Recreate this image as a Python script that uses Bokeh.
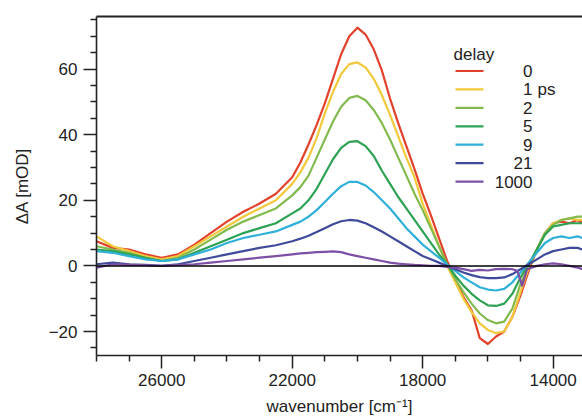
from bokeh.plotting import figure
from bokeh.models import (Range1d, FixedTicker, LinearAxis, Span, Label, BoxAnnotation)
from bokeh.embed import file_html
from bokeh.resources import INLINE

# ---------------- data ----------------
wavenumber = [28000, 27500, 27000, 26500, 26000, 25500, 25000, 24500, 24000, 23500,
              23000, 22500, 22000, 21750, 21500, 21250, 21000, 20750, 20500, 20250,
              20000, 19750, 19500, 19250, 19000, 18750, 18500, 18250, 18000, 17750,
              17500, 17250, 17000, 16750, 16500, 16250, 16000, 15750, 15500, 15250,
              15000, 14750, 14500, 14250, 14000, 13750, 13500, 13250, 13100]

d0 = [7.5, 5.5, 5.0, 3.5, 2.5, 3.5, 6.5, 10.0, 13.5, 16.5,
      19.0, 22.0, 27.0, 31.5, 37.0, 43.0, 49.5, 57.0, 64.5, 70.0,
      72.6, 70.5, 66.0, 59.5, 51.0, 43.5, 36.5, 29.5, 22.0, 15.5,
      8.5, 1.5, -4.0, -9.5, -13.5, -22.0, -23.8, -21.5, -20.0, -15.5,
      -9.0, -1.5, 5.0, 10.0, 13.0, 13.5, 13.0, 14.0, 13.0]
d1 = [9.0, 6.0, 4.5, 3.0, 2.0, 3.0, 6.0, 9.0, 12.0, 15.0,
      17.5, 20.0, 25.0, 28.5, 33.0, 39.0, 46.5, 53.0, 58.5, 61.5,
      62.0, 60.5, 57.0, 52.0, 46.0, 39.5, 33.0, 27.0, 19.0, 12.5,
      6.0, 0.0, -5.0, -10.0, -14.0, -17.5, -19.5, -20.5, -20.0, -15.5,
      -8.0, -0.5, 5.0, 10.0, 13.0, 14.0, 14.5, 14.0, 14.0]
d2 = [6.0, 5.0, 4.0, 2.5, 1.5, 2.5, 5.0, 8.0, 11.0, 13.5,
      15.5, 17.5, 21.5, 24.0, 27.5, 33.0, 38.5, 44.0, 48.5, 51.2,
      51.8, 50.5, 47.5, 43.5, 38.5, 33.0, 27.5, 22.0, 17.0, 11.5,
      6.0, 0.5, -4.0, -8.0, -11.5, -14.5, -16.5, -17.5, -17.0, -13.0,
      -5.5, 0.0, 5.0, 10.0, 12.5, 14.0, 14.5, 15.0, 15.0]
d5 = [5.0, 4.5, 3.5, 2.5, 1.5, 2.0, 4.0, 6.0, 8.0, 10.0,
      11.5, 13.0, 16.0, 17.5, 20.0, 23.5, 28.0, 32.5, 36.0, 37.8,
      38.0, 36.5, 33.5, 29.0, 25.0, 21.0, 17.5, 14.0, 10.5, 7.0,
      3.5, 0.5, -3.0, -6.0, -8.5, -10.5, -12.0, -12.2, -11.5, -8.5,
      -3.5, 0.5, 5.0, 9.5, 12.0, 12.5, 13.0, 13.0, 13.0]
d9 = [4.5, 4.0, 3.0, 2.0, 1.5, 2.0, 3.5, 5.0, 7.0, 8.5,
      9.5, 10.5, 12.5, 13.5, 15.0, 17.0, 19.5, 22.0, 24.3, 25.6,
      25.6, 24.5, 22.5, 20.0, 17.5, 14.5, 11.5, 9.0, 6.5, 4.5,
      2.5, 0.5, -1.5, -3.5, -5.0, -6.5, -7.2, -7.5, -7.0, -5.0,
      -2.0, 1.0, 4.0, 7.0, 8.5, 9.0, 8.5, 9.0, 8.5]
d21 = [0.5, 1.0, 0.5, 0.3, 0.0, 0.5, 1.5, 2.5, 3.5, 4.5,
       5.5, 6.3, 7.5, 8.3, 9.2, 10.3, 11.5, 12.7, 13.6, 14.0,
       13.8, 13.0, 11.8, 10.5, 9.0, 7.5, 6.0, 4.5, 3.0, 2.0,
       1.0, 0.0, -1.0, -2.0, -2.8, -3.4, -3.7, -3.7, -3.5, -2.5,
       -1.0, 0.5, 2.0, 3.5, 4.5, 5.0, 5.5, 5.5, 5.0]

wavenumber_1000 = [28000, 27500, 27000, 26500, 26000, 25500, 25000, 24500, 24000, 23500,
                   23000, 22500, 22000, 21750, 21500, 21250, 21000, 20750, 20500, 20250,
                   20000, 19750, 19500, 19250, 19000, 18750, 18500, 18250, 18000, 17750,
                   17500, 17250, 17000, 16750, 16500, 16250, 16000, 15750, 15500, 15250,
                   15100, 14950, 14800, 14500, 14250, 14000, 13750, 13500, 13250, 13100]
d1000 = [-0.5, 0.5, 0.3, 0.2, 0.0, 0.3, 0.5, 1.0, 1.5, 2.0,
         2.5, 3.0, 3.5, 3.8, 4.0, 4.2, 4.3, 4.4, 4.2, 3.5,
         3.0, 2.5, 2.0, 1.5, 1.0, 0.7, 0.5, 0.3, 0.2, 0.0,
         0.0, -0.3, -0.5, -1.0, -1.5, -1.2, -1.4, -1.0, -0.9, -1.0,
         -1.5, -6.0, -1.0, 0.0, 0.5, 0.8, 0.5, 0.0, -0.5, -1.0]

legend_title = "delay"
delay_labels = ["0", "1", "2", "5", "9", "21", "1000"]
delay_unit = "ps"
colors = ["#e2412b", "#f2c93a", "#82ba4e", "#2ea253", "#2fb0d8", "#3f4a9a", "#7e4fa6"]

x_major = [26000, 22000, 18000, 14000]
x_minor = [28000, 27000, 25000, 24000, 23000, 21000, 20000, 19000, 17000, 16000, 15000, 13000]
y_major = [-20, 0, 20, 40, 60]
y_minor = [-25, -15, -10, -5, 5, 10, 15, 25, 30, 35, 45, 50, 55, 65, 70, 75]

FONT = "Liberation Sans"
TXT = "#222222"
LW = 2.2

p = figure(width=582, height=418, output_backend="svg", toolbar_location=None,
           x_range=Range1d(28000, 13100), y_range=Range1d(-27.3, 76),
           min_border_left=96, min_border_right=0, min_border_top=16, min_border_bottom=61)
p.grid.visible = False
p.outline_line_color = None
p.background_fill_color = "white"

p.add_layout(Span(location=0, dimension="width", line_color="black", line_width=1.5))

series_x = [wavenumber] * 6 + [wavenumber_1000]
series_y = [d0, d1, d2, d5, d9, d21, d1000]
for xs, ys, c in zip(series_x, series_y, colors):
    p.line(xs, ys, line_color=c, line_width=LW, line_join="round")

for ax in (p.xaxis[0], p.yaxis[0]):
    ax.axis_line_width = 1.6
    ax.axis_line_color = "#222222"
    ax.major_tick_line_color = "#222222"
    ax.minor_tick_line_color = "#222222"
    ax.major_tick_line_width = 1.5
    ax.minor_tick_line_width = 1.5
    ax.major_tick_in = 0
    ax.minor_tick_in = 0
    ax.major_tick_out = 13
    ax.minor_tick_out = 6
    ax.major_label_text_font = FONT
    ax.major_label_text_font_size = "17px"
    ax.major_label_text_color = TXT
    ax.axis_label_text_font = FONT
    ax.axis_label_text_font_size = "17px"
    ax.axis_label_text_font_style = "normal"
    ax.axis_label_text_color = TXT

p.xaxis.ticker = FixedTicker(ticks=x_major, minor_ticks=x_minor)
p.yaxis.ticker = FixedTicker(ticks=y_major, minor_ticks=y_minor)
p.xaxis.axis_label = "wavenumber [cm\u207b\u00b9]"
p.yaxis.axis_label = "\u0394A [mOD]"
p.xaxis.major_label_standoff = 5
p.xaxis.axis_label_standoff = 8
p.yaxis.major_label_standoff = 6
p.yaxis.axis_label_standoff = 14

top = LinearAxis(ticker=FixedTicker(ticks=[]), axis_line_width=2, axis_line_color="#222222",
                 major_label_text_font_size="0px", major_tick_out=0, minor_tick_out=0)
p.add_layout(top, "above")

# ---- legend (screen units, relative to the plot frame, y upward) ----
LEG_LINE_X0 = 359
LEG_LINE_LEN = 28
LEG_NUM_RIGHT = 436
LEG_ROW0 = 284.5
LEG_STEP = 18.43
p.add_layout(Label(x=LEG_LINE_X0 - 2, y=LEG_ROW0 + 17, x_units="screen", y_units="screen",
                   text=legend_title, text_font=FONT, text_font_size="17px", text_color=TXT,
                   text_baseline="middle", text_align="left"))
for i, (lab, c) in enumerate(zip(delay_labels, colors)):
    yc = LEG_ROW0 - i * LEG_STEP
    p.add_layout(BoxAnnotation(left=LEG_LINE_X0, right=LEG_LINE_X0 + LEG_LINE_LEN,
                               bottom=yc - LW / 2, top=yc + LW / 2,
                               left_units="screen", right_units="screen",
                               bottom_units="screen", top_units="screen",
                               fill_color=c, fill_alpha=1, line_color=None))
    p.add_layout(Label(x=LEG_NUM_RIGHT, y=yc, x_units="screen", y_units="screen", text=lab,
                       text_font=FONT, text_font_size="17px", text_color=TXT,
                       text_baseline="middle", text_align="right"))
    if i == 1:
        p.add_layout(Label(x=LEG_NUM_RIGHT + 5, y=yc, x_units="screen", y_units="screen",
                           text=delay_unit, text_font=FONT, text_font_size="17px",
                           text_color=TXT, text_baseline="middle", text_align="left"))

open("out.html", "w").write(file_html(p, INLINE))
